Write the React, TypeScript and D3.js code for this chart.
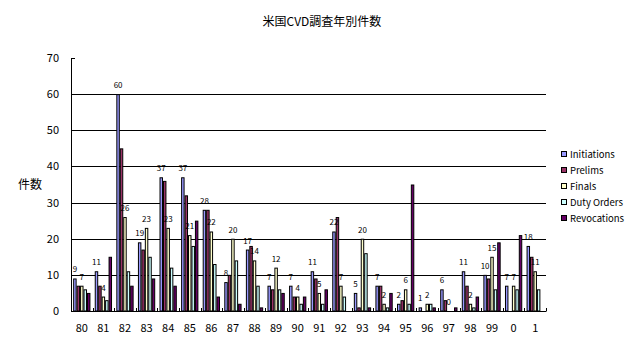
import * as d3 from 'd3';

const years = ['80', '81', '82', '83', '84', '85', '86', '87', '88', '89', '90', '91', '92', '93', '94', '95', '96', '97', '98', '99', '0', '1'];
const initiations = [9, 11, 60, 19, 37, 37, 28, 8, 17, 7, 7, 11, 22, 5, 7, 2, 1, 6, 11, 10, 7, 18];
const prelims = [7, 7, 45, 17, 36, 32, 28, 10, 18, 6, 4, 9, 26, 1, 7, 3, 0, 3, 7, 9, 0, 15];
const finals = [7, 4, 26, 23, 23, 21, 22, 20, 14, 12, 4, 5, 7, 20, 2, 6, 2, 0, 2, 15, 7, 11];
const dutyOrders = [6, 3, 11, 15, 12, 18, 13, 14, 7, 6, 2, 2, 4, 16, 1, 2, 2, 0, 1, 6, 6, 6];
const revocations = [5, 15, 7, 9, 7, 25, 4, 2, 1, 5, 4, 6, 0, 1, 5, 35, 1, 1, 4, 19, 21, 0];
const yTicks = [0, 10, 20, 30, 40, 50, 60, 70];

const series = [
  { name: 'Initiations', values: initiations, color: '#9999FF', labels: true },
  { name: 'Prelims', values: prelims, color: '#993366', labels: false },
  { name: 'Finals', values: finals, color: '#FFFFCC', labels: true },
  { name: 'Duty Orders', values: dutyOrders, color: '#CCFFFF', labels: false },
  { name: 'Revocations', values: revocations, color: '#660066', labels: false },
];

const font = '"Noto Sans CJK JP", "Noto Sans", sans-serif';

export default function App() {
  const W = 644, H = 354;
  const left = 71, right = 546, top = 58, bottom = 311;

  const x0 = d3.scaleBand().domain(years).range([left, right]).paddingInner(0).paddingOuter(0);
  const step = x0.bandwidth();
  const gap = step * 0.2;
  const x1 = d3.scaleBand().domain(series.map(s => s.name)).range([gap / 2, step - gap / 2]).padding(0);
  const y = d3.scaleLinear().domain([0, 70]).range([bottom, top]);

  return (
    <div style={{ position: 'absolute', left: 0, top: 0 }}>
      <svg width={W} height={H} style={{ display: 'block', background: '#fff' }} fontFamily={font}>
        <text x={322} y={26} textAnchor="middle" fontSize={12} fill="#000">米国CVD調査年別件数</text>

        {/* gridlines */}
        {yTicks.filter(t => t > 0 && t < 70).map(t => (
          <line key={t} x1={left} x2={right} y1={Math.round(y(t)) + 0.5} y2={Math.round(y(t)) + 0.5} stroke="#000" strokeWidth={1} />
        ))}

        {/* bars */}
        {years.map((yr, i) => (
          <g key={yr} transform={`translate(${x0(yr)},0)`}>
            {series.map(s => {
              const v = s.values[i];
              if (v <= 0) return null;
              return (
                <rect key={s.name} x={x1(s.name)! + 0.5} y={y(v) + 0.5} width={x1.bandwidth() - 1} height={y(0) - y(v) - 0.5}
                  fill={s.color} stroke="#000" strokeWidth={1} />
              );
            })}
          </g>
        ))}

        {/* bar labels */}
        {years.map((yr, i) => (
          <g key={'l' + yr} transform={`translate(${x0(yr)},0)`}>
            {series.filter(s => s.labels).map(s => (
              <text key={s.name} x={x1(s.name)! + x1.bandwidth() / 2} y={y(s.values[i]) - 6} textAnchor="middle" fontSize={8} fill="#000">
                {s.values[i]}
              </text>
            ))}
          </g>
        ))}

        {/* axes */}
        <line x1={left + 0.5} x2={left + 0.5} y1={top} y2={bottom + 0.5} stroke="#000" />
        <line x1={left} x2={right + 0.5} y1={bottom + 0.5} y2={bottom + 0.5} stroke="#000" />
        {yTicks.map(t => (
          <g key={'t' + t}>
            <line x1={left} x2={left + 4} y1={Math.round(y(t)) + 0.5} y2={Math.round(y(t)) + 0.5} stroke="#000" />
            <text x={59} y={y(t) + 4} textAnchor="end" fontSize={11} fill="#000">{t}</text>
          </g>
        ))}
        {years.map(yr => (
          <line key={'xt' + yr} x1={Math.round(x0(yr)! + step) + 0.5} x2={Math.round(x0(yr)! + step) + 0.5} y1={bottom - 3} y2={bottom} stroke="#000" />
        ))}
        {years.map(yr => (
          <text key={'xl' + yr} x={x0(yr)! + step / 2} y={332} textAnchor="middle" fontSize={11} fill="#000">{yr}</text>
        ))}

        <text x={30} y={189} textAnchor="middle" fontSize={12} fill="#000">件数</text>

        {/* legend */}
        {series.map((s, i) => (
          <g key={'lg' + s.name} transform={`translate(561,${154 + i * 16})`}>
            <rect x={0.5} y={-2.5} width={5} height={5} fill={s.color} stroke="#000" />
            <text x={9} y={3.5} fontSize={9.5} fill="#000">{s.name}</text>
          </g>
        ))}
      </svg>
    </div>
  );
}
